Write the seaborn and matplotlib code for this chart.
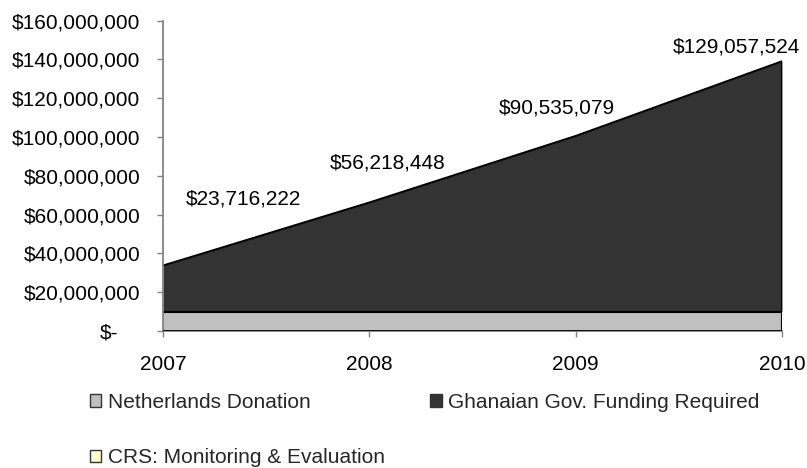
import matplotlib
matplotlib.use("Agg")
import matplotlib.pyplot as plt
import matplotlib.ticker as mticker
from matplotlib.patches import Patch
from matplotlib.transforms import ScaledTranslation
import seaborn as sns
import pandas as pd

# data
years = [2007, 2008, 2009, 2010]
netherlands = [10_000_000, 10_000_000, 10_000_000, 10_000_000]
ghana_gov = [23_716_222, 56_218_448, 90_535_079, 129_057_524]
crs_me = [0, 0, 0, 0]
series_names = ["Netherlands Donation", "Ghanaian Gov. Funding Required",
                "CRS: Monitoring & Evaluation"]
series_colors = ["#c0c0c0", "#333333", "#ffffcc"]

# where the value labels sit (x in years, y in dollars)
label_pos = [(2007.39, 68e6), (2008.09, 86.6e6), (2008.91, 115e6), (2009.78, 146.4e6)]

sns.set_theme(style="white")
plt.rcParams["font.family"] = ["Liberation Sans", "DejaVu Sans"]

df = pd.DataFrame({"year": years, "nl": netherlands, "gov": ghana_gov, "crs": crs_me})
df["top_nl"] = df["nl"]
df["top_gov"] = df["nl"] + df["gov"]
df["top_crs"] = df["top_gov"] + df["crs"]

fig = plt.figure(figsize=(8.07, 4.68), dpi=100)
ax = fig.add_axes([163 / 807, 1 - 331 / 468, 619 / 807, 310.3 / 468])

# stacked areas
ax.fill_between(df["year"], 0, df["top_nl"], color=series_colors[0], lw=0)
ax.fill_between(df["year"], df["top_nl"], df["top_gov"], color=series_colors[1], lw=0)
ax.fill_between(df["year"], df["top_gov"], df["top_crs"], color=series_colors[2], lw=0)
sns.lineplot(x="year", y="top_nl", data=df, color="black", lw=1.5, ax=ax)
sns.lineplot(x="year", y="top_gov", data=df, color="black", lw=1.5, ax=ax)
ax.vlines(years[-1], 0, df["top_gov"].iloc[-1], color="black", lw=1.5)
ax.axhline(0, color="black", lw=2, zorder=3)

for (lx, ly), v in zip(label_pos, ghana_gov):
    ax.text(lx, ly, f"${v:,.0f}", ha="center", va="center", fontsize=15, color="black")

ax.set_xlim(years[0], years[-1])
ax.set_ylim(0, 160_000_000)
ax.set_xticks(years)
ax.yaxis.set_major_locator(mticker.MultipleLocator(20_000_000))
ax.yaxis.set_major_formatter(mticker.FuncFormatter(
    lambda v, p: "$-" if v == 0 else f"${v:,.0f}"))
ax.set_xlabel("")
ax.set_ylabel("")
ax.tick_params(axis="y", labelsize=15, colors="black", length=4.3, width=1,
               direction="out", left=True, pad=12)
ax.tick_params(axis="x", labelsize=15, colors="black", length=4.3, width=1,
               direction="out", bottom=True, pad=13)
ax.tick_params(axis="both", color="#808080")
for side in ["top", "right"]:
    ax.spines[side].set_visible(False)
ax.spines["left"].set_color("#808080")
ax.spines["bottom"].set_color("#808080")

# the zero label sits further left, as in the source chart
fig.canvas.draw()
for lab in ax.get_yticklabels():
    if lab.get_text() == "$-":
        lab.set_transform(lab.get_transform() + ScaledTranslation(-0.22, 0, fig.dpi_scale_trans))

handles = [Patch(facecolor=c, edgecolor="#333333", lw=1) for c in series_colors]
order = [0, 2, 1]
fig.legend([handles[i] for i in order], [series_names[i] for i in order],
           ncol=2, loc="upper left", bbox_to_anchor=(90 / 807, 1 - 393 / 468),
           frameon=False, handlelength=0.55, handleheight=0.55,
           handletextpad=0.33, columnspacing=2.15, labelspacing=1.74,
           borderpad=0, borderaxespad=0,
           prop={"family": ["Liberation Sans"], "size": 15})

fig.savefig("out.png", dpi=100)
